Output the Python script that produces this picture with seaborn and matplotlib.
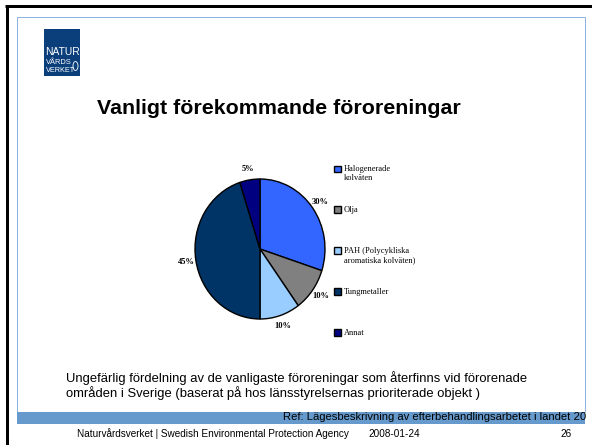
import matplotlib
matplotlib.use("Agg")
import matplotlib.pyplot as plt
import seaborn as sns
from matplotlib.patches import Rectangle, Ellipse
from matplotlib.legend_handler import HandlerPatch

# chart data
categories = ["Halogenerade\nkolväten", "Olja", "PAH (Polycykliska\naromatiska kolväten)",
              "Tungmetaller", "Annat"]
shares = [30, 10, 10, 45, 5]
colors = ["#3366ff", "#808080", "#99ccff", "#003366", "#000080"]

# slide texts (the ref line is cut at the slide edge in the original)
title = "Vanligt förekommande föroreningar"
caption_lines = ["Ungefärlig fördelning av de vanligaste föroreningar som återfinns vid förorenade",
                 "områden i Sverige (baserat på hos länsstyrelsernas prioriterade objekt )"]
ref_text = "Ref: Lägesbeskrivning av efterbehandlingsarbetet i landet 20"
footer = "Naturvårdsverket | Swedish Environmental Protection Agency"
date = "2008-01-24"
page = "26"

sns.set_style("white")
plt.rcParams['font.family'] = ['Liberation Sans', 'DejaVu Sans']
plt.rcParams['text.color'] = 'black'

W, H = 592, 445
fig = plt.figure(figsize=(W / 100, H / 100), dpi=100)
fig.patch.set_facecolor("white")

# background axes in pixel units for the slide frame
bg = fig.add_axes([0, 0, 1, 1])
bg.set_xlim(0, W)
bg.set_ylim(H, 0)
bg.axis("off")

px = 0.72  # one pixel in points
bg.plot([6.5, 6.5], [5, H], color="black", lw=3 * px, solid_capstyle="butt")
bg.plot([5, W], [6, 6], color="black", lw=3 * px, solid_capstyle="butt")
bg.add_patch(Rectangle((17, 17), 568, 395, fill=False, edgecolor="#8fb3dd", lw=1 * px))
bg.add_patch(Rectangle((17, 412), 568, 12, facecolor="#6699cc", edgecolor="none"))

# logo
bg.add_patch(Rectangle((43.5, 29), 36.5, 47, facecolor="#0b3f7c", edgecolor="none"))
bg.text(45, 52, "NATUR", color="white", fontsize=7.4, va="center", ha="left")
bg.text(45.5, 62.5, "VÅRDS", color="white", fontsize=5.4, va="center", ha="left")
bg.text(45.5, 70.5, "VERKET", color="white", fontsize=5.2, va="center", ha="left")
bg.add_patch(Ellipse((75.5, 66), 5, 9, fill=False, edgecolor="white", lw=0.6))

bg.text(97, 109, title, fontsize=15.4, fontweight="bold", va="center", ha="left")
bg.text(66, 378, caption_lines[0], fontsize=9.4, va="center", ha="left")
bg.text(66, 393, caption_lines[1], fontsize=9.4, va="center", ha="left")
bg.text(283, 417, ref_text, fontsize=8.1, va="center", ha="left")
bg.text(77, 434, footer, fontsize=7.2, va="center", ha="left")
bg.text(368, 434, date, fontsize=7.2, va="center", ha="left")
bg.text(566, 434, page, fontsize=7.2, va="center", ha="center")

# pie chart
cx, cy, rx, ry, k = 260, 249, 65, 70, 1.6
ax = fig.add_axes([(cx - rx * k) / W, (H - cy - ry * k) / H, 2 * rx * k / W, 2 * ry * k / H])
wedges, texts, autotexts = ax.pie(
    shares, colors=colors, startangle=90, counterclock=False,
    autopct="%1.0f%%", pctdistance=1.15,
    wedgeprops=dict(edgecolor="black", linewidth=1.0),
    textprops=dict(family="Liberation Serif", fontweight="bold", fontsize=6, color="black"),
)
ax.set_aspect("auto")
ax.set_xlim(-k, k)
ax.set_ylim(-k, k)
ax.axis("off")


# legend squares sit on the first line of each (two-line) label, as in Excel
def first_line_square(legend, orig_handle, xdescent, ydescent, width, height, fontsize):
    shift = 0.6 * fontsize
    return Rectangle((-xdescent, -ydescent + shift), width, height)


legend_labels = [c if "\n" in c else c + "\n " for c in categories]
fig.legend(wedges, legend_labels, loc="upper left", bbox_to_anchor=(334 / W, 1 - 165 / H),
           frameon=False, prop=dict(family="Liberation Serif", size=6),
           handlelength=0.8, handleheight=0.8, handletextpad=0.35,
           labelspacing=2.85, borderpad=0, borderaxespad=0,
           handler_map={type(wedges[0]): HandlerPatch(patch_func=first_line_square)})

fig.savefig("out.png", dpi=100)
